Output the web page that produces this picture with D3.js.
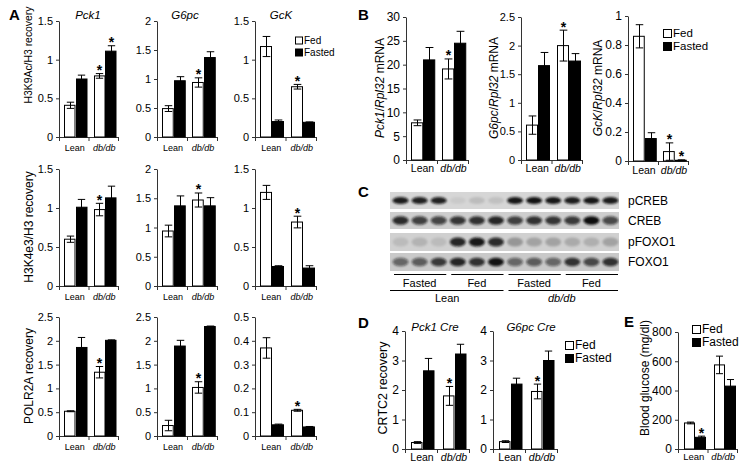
<!DOCTYPE html>
<html>
<head>
<meta charset="utf-8">
<script src="https://cdn.jsdelivr.net/npm/d3@7"></script>
<style>
body { margin: 0; background: #fff; }
svg { display: block; }
text { font-family: "Liberation Sans", Arial, sans-serif; fill: #000; }
</style>
</head>
<body>
<div id="fig"></div>
<script>
// ---- data ----
var groups = ["Lean", "db/db"];
var conds = ["Fed", "Fasted"];
// bar order in every array: Lean Fed, Lean Fasted, db/db Fed, db/db Fasted

var k9Pck1 = [0.41, 0.75, 0.79, 1.11], k9Pck1Err = [0.04, 0.05, 0.03, 0.07], k9Pck1Star = [0, 0, 1, 1];
var k9G6pc = [0.49, 0.97, 0.94, 1.37], k9G6pcErr = [0.05, 0.07, 0.08, 0.10], k9G6pcStar = [0, 0, 1, 0];
var k9Gck = [1.17, 0.20, 0.65, 0.19], k9GckErr = [0.13, 0.02, 0.03, 0.005], k9GckStar = [0, 0, 1, 0];

var k4Pck1 = [0.60, 1.01, 0.98, 1.13], k4Pck1Err = [0.04, 0.10, 0.08, 0.15], k4Pck1Star = [0, 0, 1, 0];
var k4G6pc = [0.94, 1.37, 1.47, 1.37], k4G6pcErr = [0.10, 0.17, 0.12, 0.14], k4G6pcStar = [0, 0, 1, 0];
var k4Gck = [1.20, 0.25, 0.82, 0.23], k4GckErr = [0.09, 0.01, 0.075, 0.03], k4GckStar = [0, 0, 1, 0];

var polPck1 = [0.52, 1.86, 1.34, 2.01], polPck1Err = [0.01, 0.21, 0.12, 0.01], polPck1Star = [0, 0, 1, 0];
var polG6pc = [0.22, 1.89, 1.02, 2.30], polG6pcErr = [0.11, 0.12, 0.12, 0.01], polG6pcStar = [0, 0, 1, 0];
var polGck = [0.37, 0.047, 0.108, 0.038], polGckErr = [0.043, 0.003, 0.004, 0.002], polGckStar = [0, 0, 1, 0];

var mPck1 = [7.8, 21.0, 19.1, 24.5], mPck1Err = [0.6, 2.6, 2.1, 2.5], mPck1Star = [0, 0, 1, 0];
var mG6pc = [0.61, 1.65, 2.0, 1.73], mG6pcErr = [0.16, 0.23, 0.27, 0.13], mG6pcStar = [0, 0, 1, 0];
var mGck = [0.86, 0.155, 0.065, 0.005], mGckErr = [0.08, 0.04, 0.06, 0.003], mGckStar = [0, 0, 1, 1];

var crtcPck1 = [0.22, 2.65, 1.80, 3.22], crtcPck1Err = [0.03, 0.42, 0.32, 0.33], crtcPck1Star = [0, 0, 1, 0];
var crtcG6pc = [0.25, 2.20, 1.95, 3.00], crtcG6pcErr = [0.03, 0.20, 0.25, 0.32], crtcG6pcStar = [0, 0, 1, 0];

var glucose = [178, 80, 575, 430], glucoseErr = [6, 8, 60, 45], glucoseStar = [0, 1, 0, 0];

var ticks15 = [0, 0.5, 1, 1.5];
var ticks2 = [0, 0.5, 1, 1.5, 2];
var ticks25 = [0, 0.5, 1, 1.5, 2, 2.5];
var ticks05 = [0, 0.1, 0.2, 0.3, 0.4, 0.5];
var ticks30 = [0, 5, 10, 15, 20, 25, 30];
var ticks1 = [0, 0.2, 0.4, 0.6, 0.8, 1];
var ticks4 = [0, 1, 2, 3, 4];
var ticks800 = [0, 200, 400, 600, 800];

// western blot (panel C): band strength per lane
var blotRows = ["pCREB", "CREB", "pFOXO1", "FOXO1"];
var pCREB = [0.92, 0.9, 0.9, 0.06, 0.12, 0.1, 0.95, 0.97, 0.95, 0.92, 0.95, 0.93];
var CREB = [0.85, 0.75, 0.72, 0.8, 0.82, 0.88, 0.75, 0.82, 0.8, 0.78, 1.0, 0.7];
var pFOXO1 = [0.1, 0.14, 0.1, 0.88, 0.95, 0.85, 0.28, 0.22, 0.22, 0.18, 0.16, 0.22];
var FOXO1 = [0.55, 0.6, 0.78, 0.88, 0.82, 0.97, 0.55, 0.6, 0.55, 0.82, 0.7, 0.82];
var blotTreat = ["Fasted", "Fed", "Fasted", "Fed"];
var blotStrain = ["Lean", "db/db"];

// ---- drawing ----
var svg = d3.select("#fig").append("svg")
  .attr("width", 751)
  .attr("height", 472);

function barPanel(p) {
  var g = svg.append("g");
  var y = d3.scaleLinear().domain([0, p.max]).range([p.y0, p.y1]);
  var x = d3.scaleBand().domain(groups).range([p.x0, p.x1]);
  var xi = d3.scaleBand().domain(conds).range([p.lp, x.bandwidth() - p.rp]);
  var bars = [];
  groups.forEach(function(gr, i) {
    conds.forEach(function(c, j) {
      var k = i * 2 + j;
      bars.push({g: gr, c: c, v: p.vals[k], e: p.errs[k], s: p.stars[k]});
    });
  });

  var yAxis = g.append("g")
    .attr("transform", "translate(" + p.x0 + ",0)")
    .call(d3.axisLeft(y).tickValues(p.ticks).tickSize(3).tickSizeOuter(0).tickFormat(d3.format("~g")));
  yAxis.selectAll("path,line").attr("stroke", "#333");
  yAxis.selectAll("text").attr("font-size", p.fs).attr("font-family", "Liberation Sans, Arial").attr("fill", "#000");

  // category axis, ticks at the group boundaries
  var edges = [x(groups[0]), x(groups[1]), p.x1];
  g.append("line").attr("x1", p.x0).attr("x2", p.x1).attr("y1", p.y0 + 0.5).attr("y2", p.y0 + 0.5).attr("stroke", "#333");
  g.selectAll(".xt").data(edges).enter().append("line")
    .attr("x1", function(d) { return d + 0.5; }).attr("x2", function(d) { return d + 0.5; })
    .attr("y1", p.y0).attr("y2", p.y0 + 4).attr("stroke", "#333");
  g.selectAll(".xl").data(groups).enter().append("text")
    .attr("x", function(d) { return x(d) + x.bandwidth() / 2 + 1; })
    .attr("y", p.y0 + p.xly)
    .attr("text-anchor", "middle")
    .attr("font-family", "Lato, sans-serif")
    .attr("font-size", p.xfs)
    .attr("font-style", function(d) { return d == "db/db" ? "italic" : null; })
    .text(function(d) { return d; });

  g.selectAll(".bar").data(bars).enter().append("rect")
    .attr("x", function(d) { return Math.round(x(d.g) + xi(d.c)) + 0.5; })
    .attr("y", function(d) { return y(d.v); })
    .attr("width", xi.bandwidth() - 1)
    .attr("height", function(d) { return p.y0 - y(d.v); })
    .attr("fill", function(d) { return d.c == "Fed" ? "#fff" : "#000"; })
    .attr("stroke", "#000")
    .attr("stroke-width", 1);

  var eb = g.selectAll(".err").data(bars).enter().append("g")
    .attr("stroke", "#000").attr("stroke-width", 1);
  function cx(d) { return Math.round(x(d.g) + xi(d.c) + xi.bandwidth() / 2) + 0.5; }
  var cw = xi.bandwidth() * 0.32;
  eb.append("line")
    .attr("x1", cx).attr("x2", cx)
    .attr("y1", function(d) { return y(d.v - d.e); })
    .attr("y2", function(d) { return y(d.v + d.e); });
  eb.append("line")
    .attr("x1", function(d) { return cx(d) - cw; }).attr("x2", function(d) { return cx(d) + cw; })
    .attr("y1", function(d) { return y(d.v + d.e); }).attr("y2", function(d) { return y(d.v + d.e); });
  eb.append("line")
    .attr("x1", function(d) { return cx(d) - cw; }).attr("x2", function(d) { return cx(d) + cw; })
    .attr("y1", function(d) { return y(Math.max(0, d.v - d.e)); }).attr("y2", function(d) { return y(Math.max(0, d.v - d.e)); });

  g.selectAll(".star").data(bars.filter(function(d) { return d.s; })).enter().append("text")
    .attr("x", cx)
    .attr("y", function(d) { return y(d.v + d.e) + 1.5; })
    .attr("text-anchor", "middle")
    .attr("font-size", 14)
    .attr("font-weight", "bold")
    .text("*");

  if (p.title) {
    g.append("text")
      .attr("x", p.tx).attr("y", p.ty)
      .attr("text-anchor", "middle")
      .attr("font-size", p.tfs)
      .attr("font-style", "italic")
      .text(p.title);
  }
  if (p.ylab) {
    var t = g.append("text")
      .attr("transform", "translate(" + p.lx + "," + p.ly + ") rotate(-90)")
      .attr("dy", "0.35em")
      .attr("text-anchor", "middle")
      .attr("font-size", p.lfs);
    p.ylab.forEach(function(part) {
      t.append("tspan").attr("font-style", part[1] ? "italic" : null).text(part[0]);
    });
  }
}

function legend(x, y, size, fs, gap) {
  var g = svg.append("g");
  conds.forEach(function(c, i) {
    g.append("rect")
      .attr("x", x + 0.5).attr("y", y + i * gap - size / 2 + 0.5)
      .attr("width", size).attr("height", size)
      .attr("fill", c == "Fed" ? "#fff" : "#000")
      .attr("stroke", "#000");
    g.append("text")
      .attr("x", x + size + 2).attr("y", y + i * gap)
      .attr("dy", "0.36em")
      .attr("font-size", fs)
      .text(c);
  });
}

function letter(t, x, y) {
  svg.append("text").attr("x", x).attr("y", y)
    .attr("font-size", 15).attr("font-weight", "bold").text(t);
}

// panel A
var colX = [[59, 118], [157, 217], [255, 316]];
var rowY = [[137, 21], [286, 169], [436, 317]];
var aVals = [
  [[k9Pck1, k9Pck1Err, k9Pck1Star, 1.5, ticks15], [k9G6pc, k9G6pcErr, k9G6pcStar, 2, ticks2], [k9Gck, k9GckErr, k9GckStar, 1.5, ticks15]],
  [[k4Pck1, k4Pck1Err, k4Pck1Star, 1.5, ticks15], [k4G6pc, k4G6pcErr, k4G6pcStar, 2, ticks2], [k4Gck, k4GckErr, k4GckStar, 1.5, ticks15]],
  [[polPck1, polPck1Err, polPck1Star, 2.5, ticks25], [polG6pc, polG6pcErr, polG6pcStar, 2.5, ticks25], [polGck, polGckErr, polGckStar, 0.5, ticks05]]
];
var aTitles = [["Pck1", 88], ["G6pc", 185], ["GcK", 281]];
var aLabels = [
  [[["H3K9Ac/H3 recovery", 0]], 55, 10.4],
  [[["H3K4e3/H3 recovery", 0]], 227, 12],
  [[["POLR2A recovery", 0]], 376, 12]
];

for (var r = 0; r < 3; r++) {
  for (var c = 0; c < 3; c++) {
    var d = aVals[r][c];
    barPanel({
      x0: colX[c][0], x1: colX[c][1], y0: rowY[r][0], y1: rowY[r][1],
      lp: 5, rp: 1.5,
      vals: d[0], errs: d[1], stars: d[2], max: d[3], ticks: d[4],
      fs: 11, xfs: 9, xly: 14,
      title: r == 0 ? aTitles[c][0] : null, tx: aTitles[c][1], ty: 19, tfs: 11.5,
      ylab: c == 0 ? aLabels[r][0] : null, lx: 28.5, ly: aLabels[r][1], lfs: aLabels[r][2]
    });
  }
}
legend(295, 40, 7, 10, 12);

// panel B
barPanel({x0: 406, x1: 468, y0: 160, y1: 17, lp: 5, rp: 1.5, vals: mPck1, errs: mPck1Err, stars: mPck1Star,
  max: 30, ticks: ticks30, fs: 12, xfs: 10.5, xly: 12,
  ylab: [["Pck1", 1], ["/", 0], ["Rpl32", 1], [" mRNA", 0]], lx: 380, ly: 88, lfs: 12});
barPanel({x0: 521, x1: 582, y0: 160, y1: 17, lp: 5, rp: 1.5, vals: mG6pc, errs: mG6pcErr, stars: mG6pcStar,
  max: 2.5, ticks: ticks25, fs: 11, xfs: 10.5, xly: 12,
  ylab: [["G6pc", 1], ["/", 0], ["Rpl32", 1], [" mRNA", 0]], lx: 494, ly: 88, lfs: 12});
barPanel({x0: 628, x1: 688, y0: 161, y1: 16, lp: 5, rp: 1.5, vals: mGck, errs: mGckErr, stars: mGckStar,
  max: 1, ticks: ticks1, fs: 12, xfs: 10.5, xly: 13,
  ylab: [["GcK", 1], ["/", 0], ["Rpl32", 1], [" mRNA", 0]], lx: 598, ly: 88, lfs: 12});
legend(663, 33, 8, 11.5, 13);

// panel C blot
var blotData = [pCREB, CREB, pFOXO1, FOXO1];
var stripY = [[192, 209], [212, 229], [233, 251], [253, 271]];
var stripBg = ["#d6d6d6", "#cecece", "#d0d0d0", "#c9c9c9"];
var bandH = [3.6, 4.2, 4.6, 4.2];
var lane = d3.scaleBand().domain(d3.range(12)).range([390, 619]);
var defs = svg.append("defs");
defs.append("filter").attr("id", "blur").attr("x", "-50%").attr("y", "-100%").attr("width", "200%").attr("height", "300%")
  .append("feGaussianBlur").attr("stdDeviation", 1.1);
var clip = defs.append("clipPath").attr("id", "stripclip");
stripY.forEach(function(s) {
  clip.append("rect").attr("x", 390).attr("y", s[0]).attr("width", 229).attr("height", s[1] - s[0]);
});
var blot = svg.append("g");
blot.selectAll(".strip").data(stripY).enter().append("rect")
  .attr("x", 390).attr("y", function(d) { return d[0]; })
  .attr("width", 229).attr("height", function(d) { return d[1] - d[0]; })
  .attr("fill", function(d, i) { return stripBg[i]; });
var bandG = blot.append("g").attr("clip-path", "url(#stripclip)").append("g").attr("filter", "url(#blur)");
blotData.forEach(function(row, ri) {
  bandG.selectAll(".b" + ri).data(row).enter().append("ellipse")
    .attr("cx", function(d, i) { return lane(i) + lane.bandwidth() / 2 + 1; })
    .attr("cy", (stripY[ri][0] + stripY[ri][1]) / 2)
    .attr("rx", lane.bandwidth() * 0.42)
    .attr("ry", bandH[ri])
    .attr("fill", "#111")
    .attr("fill-opacity", function(d) { return d; });
});
blot.selectAll(".bl").data(blotRows).enter().append("text")
  .attr("x", 628)
  .attr("y", function(d, i) { return (stripY[i][0] + stripY[i][1]) / 2; })
  .attr("dy", "0.36em")
  .attr("font-size", 12)
  .text(function(d) { return d; });
var tw = lane.bandwidth() * 3;
blotTreat.forEach(function(t, i) {
  var a = lane(i * 3), b = a + tw;
  blot.append("line").attr("x1", a + 4).attr("x2", b - 1).attr("y1", 274.5).attr("y2", 274.5).attr("stroke", "#000");
  blot.append("text").attr("x", (a + b) / 2 + 1).attr("y", 287)
    .attr("text-anchor", "middle").attr("font-family", "Lato, sans-serif").attr("font-size", 11).text(t);
});
blotStrain.forEach(function(t, i) {
  var a = lane(i * 6), b = a + tw * 2;
  blot.append("line").attr("x1", a + (i ? 4 : 0)).attr("x2", b - 1).attr("y1", 290.5).attr("y2", 290.5).attr("stroke", "#000");
  blot.append("text").attr("x", (a + b) / 2).attr("y", 302)
    .attr("text-anchor", "middle").attr("font-family", "Lato, sans-serif").attr("font-size", 11)
    .attr("font-style", i ? "italic" : null).text(t);
});

// panel D
barPanel({x0: 405, x1: 469, y0: 449, y1: 331, lp: 6, rp: 3, vals: crtcPck1, errs: crtcPck1Err, stars: crtcPck1Star,
  max: 4, ticks: ticks4, fs: 12, xfs: 10.5, xly: 12,
  title: "Pck1 Cre", tx: 435, ty: 331, tfs: 11.5,
  ylab: [["CRTC2 recovery", 0]], lx: 383, ly: 388, lfs: 12.5});
barPanel({x0: 493, x1: 557, y0: 449, y1: 331, lp: 6, rp: 3, vals: crtcG6pc, errs: crtcG6pcErr, stars: crtcG6pcStar,
  max: 4, ticks: ticks4, fs: 12, xfs: 10.5, xly: 12,
  title: "G6pc Cre", tx: 531, ty: 331, tfs: 11.5});
legend(565, 345, 8, 12, 13);

// panel E
barPanel({x0: 678, x1: 737, y0: 449, y1: 332, lp: 6, rp: 1.5, vals: glucose, errs: glucoseErr, stars: glucoseStar,
  max: 800, ticks: ticks800, fs: 12, xfs: 9.5, xly: 11,
  ylab: [["Blood glucose (mg/dl)", 0]], lx: 645, ly: 378, lfs: 12});
legend(692, 329, 8, 12, 13);

letter("A", 9, 20);
letter("B", 358, 20);
letter("C", 358, 197);
letter("D", 358, 328);
letter("E", 624, 327);
</script>
</body>
</html>
